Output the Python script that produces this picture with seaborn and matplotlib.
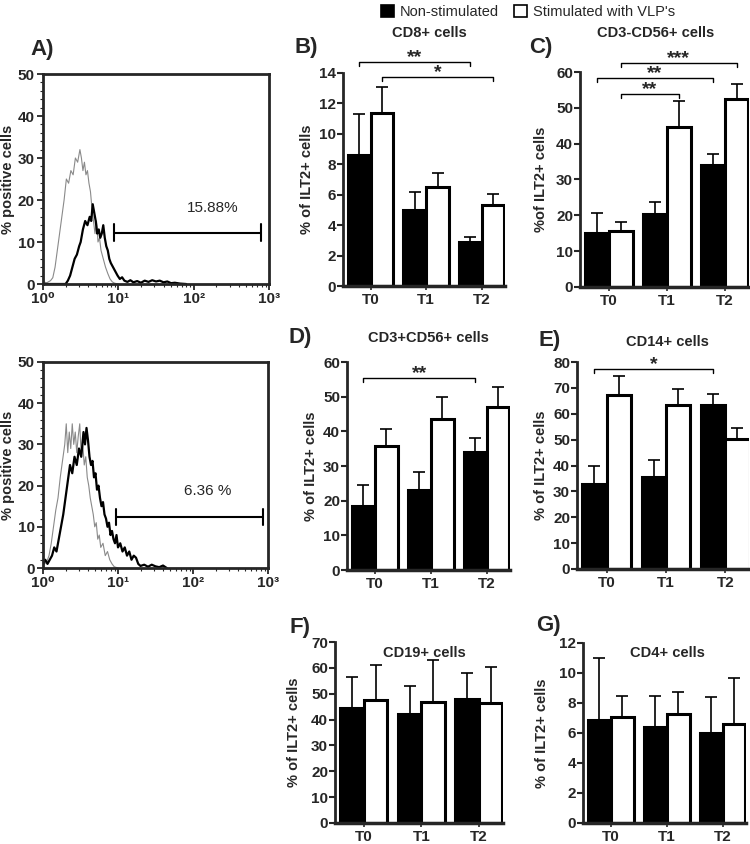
import numpy as np
import pandas as pd
import matplotlib
matplotlib.use("Agg")
import matplotlib.pyplot as plt
import seaborn as sns
from matplotlib.patches import Patch
from matplotlib.ticker import MultipleLocator, LogLocator, NullFormatter

sns.set_style("ticks")
plt.rcParams["font.family"] = ["Liberation Sans", "DejaVu Sans"]

# ---- data ----
times = ["T0", "T1", "T2"]
conds = ["Non-stimulated", "Stimulated with VLP's"]

# bar heights and top of the (upper) error bars
cd8_non, cd8_non_top = [8.6, 5.0, 2.9], [11.3, 6.2, 3.25]
cd8_vlp, cd8_vlp_top = [11.4, 6.5, 5.35], [13.1, 7.4, 6.05]

nk_non, nk_non_top = [15.0, 20.5, 34.0], [20.7, 23.8, 37.2]
nk_vlp, nk_vlp_top = [15.5, 44.6, 52.6], [18.2, 51.8, 56.7]

nkt_non, nkt_non_top = [18.5, 23.2, 34.0], [24.5, 28.3, 38.2]
nkt_vlp, nkt_vlp_top = [35.8, 43.6, 47.0], [40.8, 49.8, 52.7]

cd14_non, cd14_non_top = [32.8, 35.4, 63.3], [39.7, 42.0, 67.8]
cd14_vlp, cd14_vlp_top = [67.2, 63.4, 50.2], [74.6, 69.4, 54.4]

cd19_non, cd19_non_top = [44.3, 42.0, 48.0], [56.5, 53.0, 58.0]
cd19_vlp, cd19_vlp_top = [47.6, 46.7, 46.5], [61.0, 63.0, 60.5]

cd4_non, cd4_non_top = [6.9, 6.4, 6.0], [11.0, 8.5, 8.4]
cd4_vlp, cd4_vlp_top = [7.1, 7.25, 6.6], [8.5, 8.75, 9.7]

# flow cytometry histograms (log10 fluorescence, % positive cells)
h1_gray_log = [0.00, 0.05, 0.10, 0.13, 0.16, 0.19, 0.22, 0.25, 0.28, 0.31, 0.34, 0.37,
               0.40, 0.43, 0.46, 0.49, 0.51, 0.53, 0.55, 0.57, 0.59, 0.61, 0.63, 0.65,
               0.67, 0.69, 0.71, 0.73, 0.75, 0.77, 0.80, 0.83, 0.86, 0.89, 0.92, 0.95, 1.00]
h1_gray_pct = [0.5, 0.3, 0.8, 1.5, 4, 8, 12, 16, 20, 25, 24, 27,
               26, 30, 29, 32, 30, 27, 29, 26, 27, 24, 22, 18,
               15, 12, 15, 10, 11, 8, 6, 4, 2.5, 1.2, 0.5, 0.2, 0]
h1_black_log = [0.00, 0.30, 0.33, 0.36, 0.39, 0.42, 0.45, 0.48, 0.50, 0.53, 0.56, 0.59,
                0.62, 0.64, 0.66, 0.68, 0.70, 0.72, 0.74, 0.76, 0.78, 0.80, 0.82, 0.84,
                0.86, 0.88, 0.90, 0.93, 0.96, 0.99, 1.02, 1.05, 1.08, 1.12, 1.16, 1.20,
                1.25, 1.30, 1.35, 1.40, 1.45, 1.50, 1.55, 1.60, 1.65, 1.70, 1.75, 1.82, 1.90]
h1_black_pct = [0, 0, 0.8, 2, 4, 6, 7, 9, 10, 13, 15, 14,
                16, 15, 19, 17, 15, 12, 13, 11, 12, 14, 11, 9,
                8, 6, 5, 4, 3, 2, 1.2, 1.6, 0.8, 0.5, 0.9, 0.4,
                0.7, 0.3, 0.8, 0.5, 0.9, 0.6, 0.8, 0.4, 0.6, 0.2, 0.3, 0.1, 0]

h2_gray_log = [0.00, 0.02, 0.05, 0.08, 0.11, 0.14, 0.17, 0.20, 0.23, 0.26, 0.29, 0.31,
               0.33, 0.35, 0.37, 0.39, 0.41, 0.43, 0.45, 0.47, 0.49, 0.51, 0.53, 0.55,
               0.57, 0.59, 0.61, 0.63, 0.65, 0.67, 0.69, 0.71, 0.73, 0.75, 0.77, 0.80,
               0.83, 0.86, 0.89, 0.92, 0.95, 1.00]
h2_gray_pct = [3, 1, 1.5, 3, 6, 10, 14, 17, 22, 26, 30, 35,
               28, 33, 29, 35, 30, 33, 28, 32, 35, 27, 30, 25,
               27, 22, 20, 17, 15, 13, 10, 11, 7, 8, 5, 6,
               3, 4, 2, 1, 0.3, 0]
h2_black_log = [0.00, 0.03, 0.06, 0.09, 0.12, 0.15, 0.18, 0.21, 0.24, 0.27, 0.30, 0.33,
                0.36, 0.39, 0.42, 0.45, 0.48, 0.51, 0.54, 0.56, 0.58, 0.60, 0.62, 0.64,
                0.66, 0.68, 0.70, 0.72, 0.74, 0.76, 0.78, 0.80, 0.82, 0.84, 0.86, 0.88,
                0.90, 0.92, 0.94, 0.96, 0.98, 1.00, 1.03, 1.06, 1.09, 1.12, 1.15, 1.18,
                1.21, 1.24, 1.27, 1.30, 1.35, 1.40, 1.45, 1.50, 1.55, 1.60, 1.65]
h2_black_pct = [1, 2, 1, 2, 3, 5, 4, 7, 10, 13, 17, 21,
                25, 23, 27, 25, 29, 27, 33, 30, 34, 31, 27, 25,
                26, 22, 23, 19, 20, 17, 15, 16, 13, 12, 10, 11,
                8, 9, 7, 6, 8, 5, 6, 4, 5, 3, 4, 2,
                3, 2.5, 1, 0.5, 0.8, 0.3, 0.8, 0.4, 0.2, 0.6, 0]

W, H = 750, 844
fig = plt.figure(figsize=(W / 100, H / 100), dpi=100)


def px_axes(left, top, right, bottom):
    return fig.add_axes([left / W, 1 - bottom / H, (right - left) / W, (bottom - top) / H])


def ftext(x, y, s, **kw):
    fig.text(x / W, 1 - y / H, s, **kw)


def histo(rect, gray_log, gray_pct, black_log, black_pct, gate, pct_text, text_xy):
    ax = px_axes(*rect)
    sns.lineplot(x=np.power(10.0, gray_log), y=gray_pct, color="#8a8a8a", lw=0.8, ax=ax)
    sns.lineplot(x=np.power(10.0, black_log), y=black_pct, color="black", lw=1.6, ax=ax)
    ax.set_xscale("log")
    ax.set_xlim(1, 1000)
    ax.set_ylim(0, 50)
    ax.set_xticks([1, 10, 100, 1000])
    ax.set_xticklabels(["10⁰", "10¹", "10²", "10³"])
    ax.xaxis.set_minor_locator(LogLocator(base=10, subs=np.arange(2, 10)))
    ax.xaxis.set_minor_formatter(NullFormatter())
    ax.yaxis.set_major_locator(MultipleLocator(10))
    ax.yaxis.set_minor_locator(MultipleLocator(2))
    for s in ax.spines.values():
        s.set_linewidth(2)
    ax.tick_params(which="major", length=4, width=1.3, labelsize=11, pad=2)
    ax.tick_params(which="minor", length=2, width=0.8)
    for lb in ax.get_xticklabels() + ax.get_yticklabels():
        lb.set_fontweight("bold")
    ax.set_ylabel("% positive cells", fontsize=10.5, fontweight="bold")
    ax.yaxis.set_label_coords(-0.125, 0.5)
    lo, hi, gy = gate
    ax.plot([lo, hi], [gy, gy], color="black", lw=1.5)
    for gx in (lo, hi):
        ax.plot([gx, gx], [gy - 2, gy + 2], color="black", lw=1.5)
    ax.text(text_xy[0], text_xy[1], pct_text, ha="center", va="center", fontsize=11)
    return ax


def bar_panel(rect, non, non_top, vlp, vlp_top, ymax, ystep, ylabel, label_x,
              xlim, brackets=()):
    ax = px_axes(*rect)
    df = pd.DataFrame({"time": times * 2,
                       "cond": [conds[0]] * 3 + [conds[1]] * 3,
                       "value": non + vlp})
    sns.barplot(data=df, x="time", y="value", hue="cond", palette=["black", "white"],
                saturation=1, width=0.82, edgecolor="black", linewidth=2.2,
                errorbar=None, legend=False, ax=ax)
    bars = sorted(ax.patches, key=lambda p: p.get_x())
    xs = np.array([p.get_x() + p.get_width() / 2 for p in bars])
    hs = np.array([p.get_height() for p in bars])
    tops = np.array([v for pair in zip(non_top, vlp_top) for v in pair])
    ax.errorbar(xs, hs, yerr=[np.zeros(len(hs)), tops - hs], fmt="none",
                ecolor="black", elinewidth=1.2, capsize=4, capthick=1.2, zorder=3)
    ax.set_xlim(*xlim)
    ax.set_ylim(0, ymax)
    ax.yaxis.set_major_locator(MultipleLocator(ystep))
    sns.despine(ax=ax)
    ax.spines["left"].set_linewidth(2)
    ax.spines["bottom"].set_linewidth(2.5)
    ax.tick_params(axis="y", length=4, width=1.5, labelsize=11, pad=1)
    ax.tick_params(axis="x", length=3, width=1.2, labelsize=11, pad=2)
    for lb in ax.get_xticklabels() + ax.get_yticklabels():
        lb.set_fontweight("bold")
    ax.set_xlabel("")
    ax.set_ylabel(ylabel, fontsize=10.5, fontweight="bold")
    ax.yaxis.set_label_coords(label_x, 0.5)
    hpx = ax.get_window_extent().height
    d = 4 / hpx * ymax
    for i, j, y, stars in brackets:
        ax.plot([xs[i], xs[i], xs[j], xs[j]], [y - d, y, y, y - d], color="black",
                lw=1, clip_on=False)
        ax.annotate(stars, xy=((xs[i] + xs[j]) / 2, y), xytext=(0, -3),
                    textcoords="offset points", ha="center", va="bottom",
                    fontsize=14, fontweight="bold", annotation_clip=False)
    return ax


# ---- A) histograms ----
histo((43, 74, 269, 284), h1_gray_log, h1_gray_pct, h1_black_log, h1_black_pct,
      (10 ** 0.94, 10 ** 2.9, 12.2), "15.88%", (10 ** 2.25, 18))
histo((43, 362, 268, 568), h2_gray_log, h2_gray_pct, h2_black_log, h2_black_pct,
      (10 ** 0.97, 10 ** 2.93, 12.4), "6.36 %", (10 ** 2.2, 18.7))

# ---- B) - G) bar panels ----
bar_panel((343, 73, 505, 286), cd8_non, cd8_non_top, cd8_vlp, cd8_vlp_top, 14, 2,
          "% of ILT2+ cells", -0.18, (-0.5, 2.42),
          [(0, 4, 14.7, "**"), (1, 5, 13.75, "*")])
bar_panel((580, 72, 749, 287), nk_non, nk_non_top, nk_vlp, nk_vlp_top, 60, 10,
          "%of ILT2+ cells", -0.19, (-0.5, 2.42),
          [(1, 5, 62.5, "***"), (0, 4, 58.4, "**"), (1, 3, 53.9, "**")])
bar_panel((347, 362, 510, 570), nkt_non, nkt_non_top, nkt_vlp, nkt_vlp_top, 60, 10,
          "% of ILT2+ cells", -0.18, (-0.5, 2.42),
          [(0, 4, 55.4, "**")])
bar_panel((577, 362, 749, 569), cd14_non, cd14_non_top, cd14_vlp, cd14_vlp_top, 80, 10,
          "% of ILT2+ cells", -0.17, (-0.5, 2.4),
          [(0, 4, 77.3, "*")])
bar_panel((335, 642, 503, 823), cd19_non, cd19_non_top, cd19_vlp, cd19_vlp_top, 70, 10,
          "% of ILT2+ cells", -0.20, (-0.5, 2.42))
bar_panel((583, 643, 746, 823), cd4_non, cd4_non_top, cd4_vlp, cd4_vlp_top, 12, 2,
          "% of ILT2+ cells", -0.21, (-0.5, 2.42))

# ---- panel titles and letters ----
title_kw = dict(ha="center", va="center", fontsize=10.5, fontweight="bold")
ftext(429, 33, "CD8+ cells", **title_kw)
ftext(656, 33, "CD3-CD56+ cells", **title_kw)
ftext(428, 338, "CD3+CD56+ cells", **title_kw)
ftext(667, 342, "CD14+ cells", **title_kw)
ftext(424, 653, "CD19+ cells", **title_kw)
ftext(667, 653, "CD4+ cells", **title_kw)

letter_kw = dict(ha="center", va="center", fontsize=16, fontweight="bold")
for s, x, y in [("A)", 42, 49), ("B)", 306, 47), ("C)", 541, 48), ("D)", 300, 338),
                ("E)", 550, 340), ("F)", 300, 628), ("G)", 548, 625)]:
    ftext(x, y, s, **letter_kw)

# ---- legend ----
handles = [Patch(facecolor="black", edgecolor="black", lw=1.2),
           Patch(facecolor="white", edgecolor="black", lw=1.2)]
fig.legend(handles, conds, loc="center left", bbox_to_anchor=(381 / W, 1 - 12 / H),
           ncol=2, frameon=False, fontsize=10.5, handlelength=0.9, handleheight=0.9,
           handletextpad=0.4, columnspacing=1.0, borderaxespad=0, borderpad=0)

fig.savefig("out.png", dpi=100)
